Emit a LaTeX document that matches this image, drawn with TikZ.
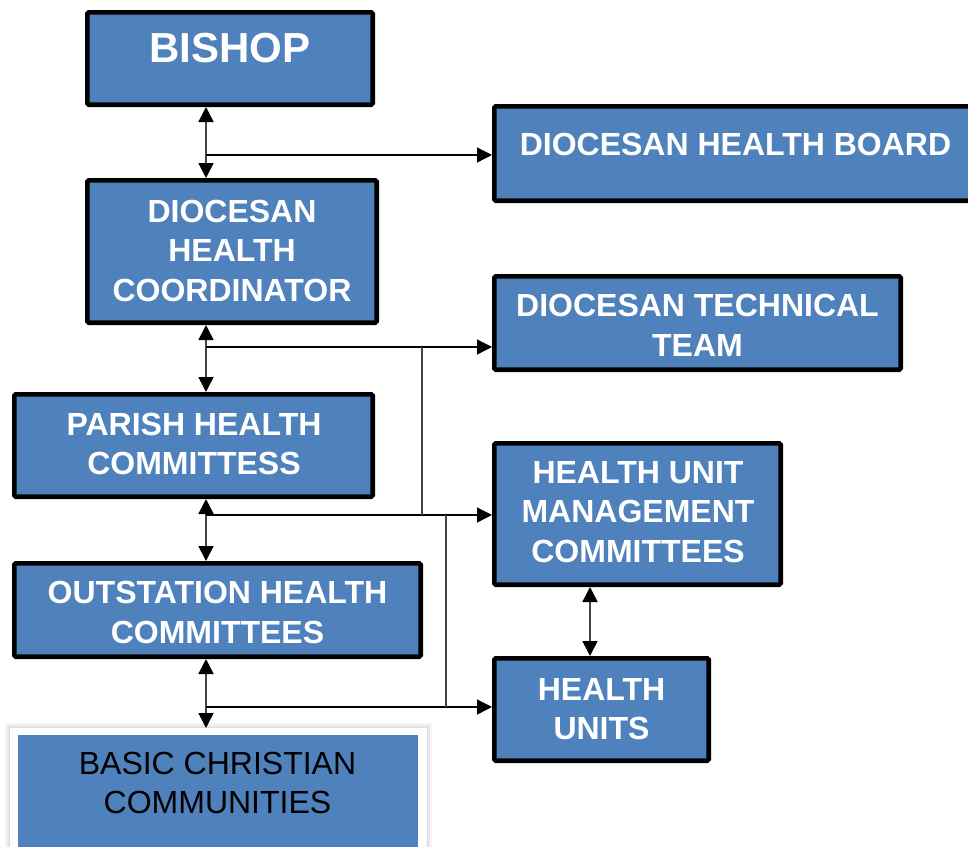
\documentclass[tikz,border=0pt]{standalone}
\usepackage{fontspec}
\setmainfont{Liberation Sans}
\usetikzlibrary{arrows.meta}
\definecolor{boxblue}{HTML}{4F81BD}
\definecolor{lgray}{HTML}{444444}
\tikzset{
  orgbox/.style={draw=black, line width=4.6pt, fill=boxblue, rounded corners=1.5pt, inner sep=0pt},
  orgtxt/.style={text=white, font=\bfseries\fontsize{32}{39.5}\selectfont, align=center, inner sep=0pt},
  dbl/.style={draw=lgray, line width=1.7pt, {Triangle[length=15pt,width=15pt,color=black]}-{Triangle[length=15pt,width=15pt,color=black]}},
  harr/.style={draw=black, line width=1.3pt, -{Triangle[length=15pt,width=15pt]}},
  junc/.style={draw=lgray, line width=1.7pt},
}
\begin{document}
\begin{tikzpicture}[x=1pt,y=-1pt]
\useasboundingbox (0,0) rectangle (968,846);
\clip (0,0) rectangle (968,846);
% boxes
\node[orgbox, minimum width=285.4pt, minimum height=92.4pt] (bishop) at (230,58.5) {};
\node[orgbox, minimum width=482.4pt, minimum height=94.4pt] (dhb) at (735.5,153.5) {};
\node[orgbox, minimum width=289.4pt, minimum height=142.4pt] (coord) at (232,251.5) {};
\node[orgbox, minimum width=406.4pt, minimum height=93.4pt] (tech) at (697.5,323) {};
\node[orgbox, minimum width=358.4pt, minimum height=102.4pt] (parish) at (193.5,445.5) {};
\node[orgbox, minimum width=286.4pt, minimum height=141.4pt] (humc) at (637.5,514) {};
\node[orgbox, minimum width=406.4pt, minimum height=93.4pt] (outst) at (217.5,610) {};
\node[orgbox, minimum width=214.4pt, minimum height=102.4pt] (hu) at (601.5,709.5) {};
% BCC box with soft shadow
\fill[black, opacity=0.04] (5,723) rectangle (432,860);
\fill[black, opacity=0.05] (7,725) rectangle (430,860);
\fill[black, opacity=0.06] (9,727) rectangle (428,860);
\node[fill=white, inner sep=0pt, outer sep=0pt, minimum width=417pt, minimum height=130pt] (bcc) at (218.5,793) {};
\node[fill=boxblue, inner sep=0pt, outer sep=0pt, minimum width=400pt, minimum height=120pt] (bccin) at (218,795) {};
% texts
\node[orgtxt, font=\bfseries\fontsize{42}{48}\selectfont] (bishopT) at (230,48) {BISHOP};
\node[orgtxt] (dhbT) at (735.5,144) {DIOCESAN HEALTH BOARD};
\node[orgtxt] (coordT) at (232,250.5) {DIOCESAN\\HEALTH\\COORDINATOR};
\node[orgtxt] (techT) at (697.5,325.5) {DIOCESAN TECHNICAL\\TEAM};
\node[orgtxt] (parishT) at (194,444) {PARISH HEALTH\\COMMITTESS};
\node[orgtxt] (humcT) at (638,512) {HEALTH UNIT\\MANAGEMENT\\COMMITTEES};
\node[orgtxt] (outstT) at (217.5,612.5) {OUTSTATION HEALTH\\COMMITTEES};
\node[orgtxt] (huT) at (601.5,709) {HEALTH\\UNITS};
\node[orgtxt, text=black, font=\fontsize{32}{38.5}\selectfont] (bccT) at (217.5,783) {BASIC CHRISTIAN\\COMMUNITIES};
% helper coordinates
\coordinate (vx) at (206,0);
\coordinate (h1) at (0,155);
\coordinate (h2) at (422,347);
\coordinate (h3) at (446,515);
\coordinate (h4) at (446,707);
\coordinate (vr) at (590,0);
% vertical double arrows
\draw[dbl] (vx |- bishop.south) -- (vx |- coord.north);
\draw[dbl] (vx |- coord.south) -- (vx |- parish.north);
\draw[dbl] (vx |- parish.south) -- (vx |- outst.north);
\draw[dbl] (vx |- outst.south) -- (vx |- bcc.north);
\draw[dbl] (vr |- humc.south) -- (vr |- hu.north);
% horizontal arrows
\draw[harr] (vx |- h1) -- (h1 -| dhb.west);
\draw[harr] (vx |- h2) -- (h2 -| tech.west);
\draw[harr] (vx |- h3) -- (h3 -| humc.west);
\draw[harr] (vx |- h4) -- (h4 -| hu.west);
% junction verticals
\draw[junc] (h2) -- (h2 |- h3);
\draw[junc] (h3) -- (h4);
\end{tikzpicture}
\end{document}
